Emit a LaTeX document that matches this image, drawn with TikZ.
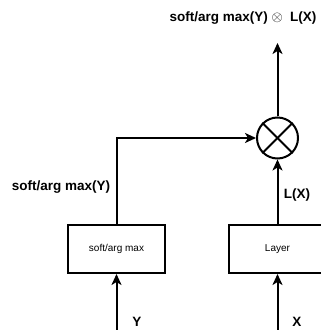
\documentclass[tikz,border=0pt]{standalone}
\usepackage{fontspec}
\setmainfont{Liberation Sans}
\usetikzlibrary{arrows.meta,positioning}
\definecolor{ink}{HTML}{000000}
\tikzset{
  wire/.style={draw=ink, line width=2pt, -{Stealth[length=11pt,width=10pt,inset=3pt]}},
  blk/.style={draw=ink, line width=2pt, minimum width=97pt, minimum height=48pt, inner sep=0pt, font=\fontsize{10}{12}\selectfont},
  mul/.style={circle, draw=ink, line width=2pt, minimum size=41pt, inner sep=0pt},
  lab/.style={text=ink, font=\bfseries\fontsize{13.5}{16}\selectfont},
}

\begin{document}
\begin{tikzpicture}[x=1pt,y=1pt]
  \useasboundingbox (0,0) rectangle (321,330);
  \clip (0,0) rectangle (321,330);
  % blocks
  \node[blk] (sm) at (116.5,81) {soft/arg max};
  \node[blk] (layer) at (277.5,81) {Layer};
  \node[mul] (prod) at (277.5,192) {};
  \draw[line width=2pt] (prod.north west) -- (prod.south east);
  \draw[line width=2pt] (prod.north east) -- (prod.south west);
  % free ends
  \coordinate (yin) at (116.5,0);
  \coordinate (xin) at (277.5,0);
  \coordinate (out) at (277.5,287);
  % connectors
  \draw[wire] (yin) -- (sm.south);
  \draw[wire] (xin) -- (layer.south);
  \draw[wire] (sm.north) |- (prod.west);
  \draw[wire] (layer.north) -- (prod.south);
  \draw[wire] (prod.north) -- (out);
  % labels
  \node[lab] (top) at (243,312) {soft/arg max(Y) {\normalfont$\otimes$}\ \ L(X)};
  \node[lab] (smout) at (61,143) {soft/arg max(Y)};
  \node[lab] (lx) at (297,135) {L(X)};
  \node[lab] (ylab) at (137,8) {Y};
  \node[lab] (xlab) at (297,8) {X};
\end{tikzpicture}
\end{document}
